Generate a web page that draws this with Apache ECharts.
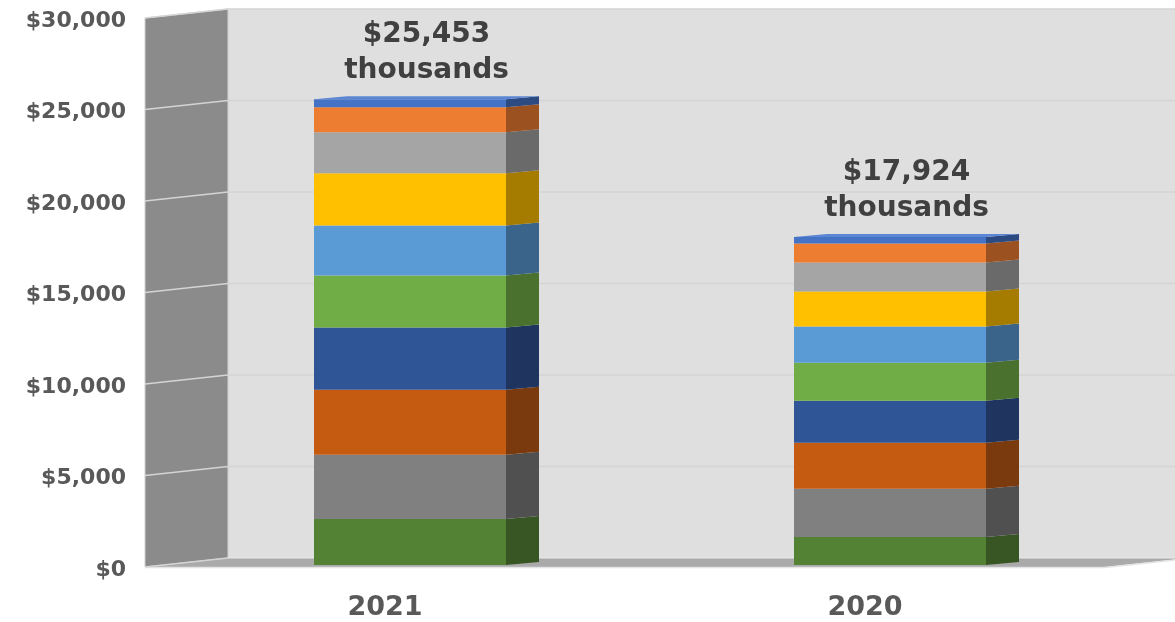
<!DOCTYPE html>
<html>
<head>
<meta charset="utf-8">
<title>Stacked totals by year</title>
<script src="https://cdn.jsdelivr.net/npm/echarts@6/dist/echarts.min.js"></script>
<style>
  html, body { margin: 0; padding: 0; background: #ffffff; }
  #chart { width: 1175px; height: 622px; }
</style>
</head>
<body>
<div id="chart"></div>
<script>
// Categories (years) and stacked components, bottom to top, in $ thousands
const years = ['2021', '2020'];
const part1 = [2518, 1533];
const part2 = [3503, 2627];
const part3 = [3558, 2518];
const part4 = [3394, 2299];
const part5 = [2846, 2080];
const part6 = [2737, 1970];
const part7 = [2846, 1916];
const part8 = [2244, 1587];
const part9 = [1368, 1040];
const part10 = [439, 354];
const yTicks = [0, 5000, 10000, 15000, 20000, 25000, 30000];

const parts = [part1, part2, part3, part4, part5, part6, part7, part8, part9, part10];
const faceColors = ['#548235', '#808080', '#c55a11', '#2f5597', '#70ad47',
                    '#5b9bd5', '#ffc000', '#a5a5a5', '#ed7d31', '#4472c4'];
const sideColors = ['#375623', '#505050', '#7b3a0d', '#1f355f', '#4a712e',
                    '#3a6489', '#a67c00', '#6a6a6a', '#9b5120', '#2c4b82'];
const topColor = '#5a86d4';

// oblique projection offsets
const WALL_DEPTH = [83, -9];   // front plane -> back wall
const BAR_SHIFT = [25, -2];    // front plane -> bar front faces
const BAR_DEPTH = [33, -3];    // bar front face -> bar back face
const FONT = 'DejaVu Sans';

const chart = echarts.init(document.getElementById('chart'), null, { renderer: 'canvas' });

function fmtMoney(v) {
  return '$' + Math.round(v).toString().replace(/\B(?=(\d{3})+(?!\d))/g, ',');
}

// room, walls and floor
function renderWalls(params, api) {
  const cs = params.coordSys;
  const left = cs.x, right = cs.x + cs.width;
  const top = cs.y, bot = cs.y + cs.height;
  const dx = WALL_DEPTH[0], dy = WALL_DEPTH[1];
  return {
    type: 'group',
    children: [
      { type: 'rect', shape: { x: left + dx, y: top + dy, width: right - left + 200, height: bot - top },
        style: { fill: '#dfdfdf' } },
      { type: 'polygon', shape: { points: [[left, top], [left + dx, top + dy], [left + dx, bot + dy], [left, bot]] },
        style: { fill: '#8b8b8b', stroke: '#d0d0d0', lineWidth: 1 } },
      { type: 'polygon', shape: { points: [[left, bot], [right, bot], [right + dx, bot + dy], [left + dx, bot + dy]] },
        style: { fill: '#aaaaaa' } },
      { type: 'line', shape: { x1: left, y1: bot + 0.5, x2: right, y2: bot + 0.5 },
        style: { stroke: '#e4e4e4', lineWidth: 1.5 } },
      { type: 'line', shape: { x1: right, y1: bot + 0.5, x2: right + dx, y2: bot + dy + 0.5 },
        style: { stroke: '#e4e4e4', lineWidth: 1.5 } },
      { type: 'line', shape: { x1: left + dx, y1: bot + dy, x2: right + dx + 200, y2: bot + dy },
        style: { stroke: '#e8e8e8', lineWidth: 1 } }
    ]
  };
}

// gridlines on back wall and side wall, plus the value labels
function renderGrid(params, api) {
  const cs = params.coordSys;
  const left = cs.x, right = cs.x + cs.width;
  const v = api.value(0);
  const y = api.coord([0, v])[1];
  const dx = WALL_DEPTH[0], dy = WALL_DEPTH[1];
  const children = [
    { type: 'line', shape: { x1: left, y1: y, x2: left + dx, y2: y + dy },
      style: { stroke: '#d4d4d4', lineWidth: 1.5 } },
    { type: 'text', x: left - 19, y: y + 3,
      style: { text: fmtMoney(v), fontFamily: FONT, fontWeight: 'bold', fontSize: 22,
        fill: '#595959', align: 'right', verticalAlign: 'middle' } }
  ];
  if (v > 0) {
    children.push({ type: 'line', shape: { x1: left + dx, y1: y + dy, x2: right + dx + 200, y2: y + dy },
      style: { stroke: '#d4d4d4', lineWidth: 1.5 } });
  }
  return { type: 'group', children: children };
}

// one stacked segment drawn as a box
function makeBarRenderer(k) {
  return function (params, api) {
    const ci = api.value(0), lo = api.value(1), hi = api.value(2);
    const pLo = api.coord([ci, lo]);
    const pHi = api.coord([ci, hi]);
    const w = api.size([1, 0])[0] * 0.4;
    const cx = pLo[0] + BAR_SHIFT[0];
    const x0 = cx - w / 2, x1 = cx + w / 2;
    const yb = pLo[1] + BAR_SHIFT[1], yt = pHi[1] + BAR_SHIFT[1];
    const dx = BAR_DEPTH[0], dy = BAR_DEPTH[1];
    const children = [
      { type: 'rect', shape: { x: x0, y: yt, width: w, height: yb - yt },
        style: { fill: faceColors[k] } },
      { type: 'polygon', shape: { points: [[x1, yb], [x1 + dx, yb + dy], [x1 + dx, yt + dy], [x1, yt]] },
        style: { fill: sideColors[k] } }
    ];
    if (k === parts.length - 1) {
      children.push({ type: 'polygon',
        shape: { points: [[x0, yt], [x1, yt], [x1 + dx, yt + dy], [x0 + dx, yt + dy]] },
        style: { fill: topColor } });
    }
    return { type: 'group', children: children };
  };
}

// totals above each bar
function renderTotals(params, api) {
  const ci = api.value(0), total = api.value(1);
  const p = api.coord([ci, total]);
  return {
    type: 'text',
    x: p[0] + BAR_SHIFT[0] + BAR_DEPTH[0] / 2,
    y: p[1] - 12,
    style: {
      text: fmtMoney(total) + '\nthousands',
      fontFamily: FONT, fontWeight: 'bold', fontSize: 28, lineHeight: 36,
      fill: '#404040', align: 'center', verticalAlign: 'bottom'
    }
  };
}

const series = [
  { type: 'custom', name: 'walls', z: 1, silent: true, renderItem: renderWalls, data: [[0]] },
  { type: 'custom', name: 'grid', z: 2, silent: true, renderItem: renderGrid,
    data: yTicks.map(v => [v]), encode: { y: 0 } }
];

const running = years.map(() => 0);
parts.forEach((arr, k) => {
  const data = arr.map((v, i) => {
    const lo = running[i];
    running[i] += v;
    return [i, lo, running[i]];
  });
  series.push({ type: 'custom', name: 'part' + (k + 1), z: 3, renderItem: makeBarRenderer(k),
    data: data, encode: { x: 0, y: [1, 2] } });
});

series.push({ type: 'custom', name: 'totals', z: 4, silent: true, renderItem: renderTotals,
  data: running.map((t, i) => [i, t]), encode: { x: 0, y: 1 } });

chart.setOption({
  animation: false,
  backgroundColor: '#ffffff',
  grid: { left: 145, right: 70, top: 18, bottom: 55, containLabel: false },
  xAxis: {
    type: 'category', data: years, boundaryGap: true,
    axisLine: { show: false }, axisTick: { show: false }, splitLine: { show: false },
    axisLabel: { margin: 27, color: '#595959', fontFamily: FONT, fontWeight: 'bold', fontSize: 27 }
  },
  yAxis: {
    type: 'value', min: 0, max: 30000, interval: 5000,
    axisLine: { show: false }, axisTick: { show: false }, splitLine: { show: false },
    axisLabel: { show: false }
  },
  series: series
});
</script>
</body>
</html>
